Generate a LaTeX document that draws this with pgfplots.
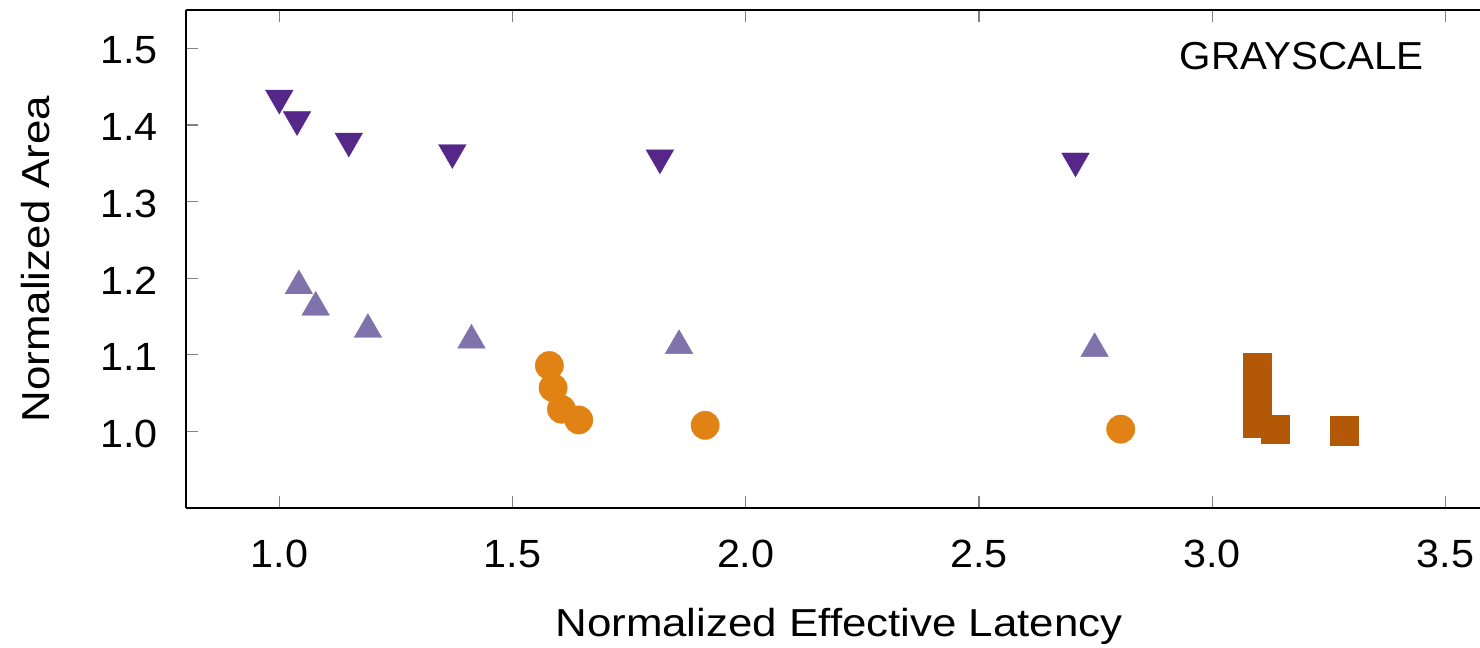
\documentclass[border=0pt]{standalone}
\usepackage{pgfplots}
\pgfplotsset{compat=1.18}
\usetikzlibrary{calc}
\usepackage{fontspec}
\setmainfont{Liberation Sans}
\newfontfamily\tickfont{Liberation Sans}[FakeStretch=1.05]
\newfontfamily\labfont{Liberation Sans}[FakeStretch=1.125]
\newfontfamily\notefont{Liberation Sans}[FakeStretch=1.035]
\definecolor{cdown}{HTML}{542788}
\definecolor{cup}{HTML}{8073AC}
\definecolor{corange}{HTML}{E08214}
\definecolor{cbrown}{HTML}{B35806}
\begin{document}
\begin{tikzpicture}
\begin{axis}[
  name=ax,
  scale only axis, width=368.4pt, height=140.5pt,
  xmin=0.8, xmax=3.6, ymin=0.9, ymax=1.55,
  xtick={1,1.5,2,2.5,3,3.5},
  ytick={1.0,1.1,1.2,1.3,1.4,1.5},
  axis x line*=box, axis y line*=left,
  tick align=inside,
  major tick length=3.3pt,
  every tick/.style={gray, line width=0.35pt},
  axis line style={black, line width=0.55pt},
  xticklabel={\pgfmathprintnumber[fixed,fixed zerofill,precision=1,assume math mode=true]{\tick}},
  yticklabel={\pgfmathprintnumber[fixed,fixed zerofill,precision=1,assume math mode=true]{\tick}},
  xticklabel style={font=\tickfont\fontsize{11.1}{13}\selectfont, anchor=base, yshift=-16.9pt},
  yticklabel style={font=\tickfont\fontsize{11.1}{13}\selectfont, anchor=east, inner sep=0pt, xshift=-7.8pt, yshift=-0.6pt},
  xlabel={Normalized Effective Latency},
  ylabel={Normalized Area},
  xlabel style={at={(axis description cs:0.5,-0.2584)}, anchor=base, font=\labfont\fontsize{11}{13}\selectfont},
  ylabel style={at={(axis description cs:-0.1042,0.5)}, anchor=base, font=\labfont\fontsize{11}{13}\selectfont},
]
\addplot[only marks, mark=triangle*, mark size=4.5pt,
  mark options={rotate=180, fill=cdown, draw=cdown, line width=0.1pt}]
  coordinates {(1.000,1.435) (1.038,1.407) (1.149,1.379) (1.371,1.364) (1.816,1.357) (2.707,1.353)};
\addplot[only marks, mark=triangle*, mark size=4.5pt,
  mark options={fill=cup, draw=cup, line width=0.1pt}]
  coordinates {(1.042,1.190) (1.078,1.162) (1.190,1.133) (1.412,1.119) (1.857,1.112) (2.748,1.108)};
\addplot[only marks, mark=*, mark size=4.0pt,
  mark options={fill=corange, draw=corange, line width=0.1pt}]
  coordinates {(1.579,1.086) (1.587,1.057) (1.605,1.029) (1.642,1.015) (1.913,1.008) (2.804,1.003)};
\addplot[only marks, mark=square*, mark size=4.0pt,
  mark options={fill=cbrown, draw=cbrown, line width=0.1pt}]
  coordinates {(3.096,1.083) (3.096,1.055) (3.096,1.028) (3.096,1.011) (3.135,1.003) (3.283,1.001)};
\node[anchor=base east, inner sep=0pt, font=\notefont\fontsize{11}{13}\selectfont] at (axis cs:3.455,1.472) {GRAYSCALE};
\end{axis}
\pgfresetboundingbox
\path[use as bounding box] ($(ax.south west)+(-52.47pt,-39.2pt)$) rectangle ($(ax.north east)+(-3.39pt,2.82pt)$);
\end{tikzpicture}
\end{document}
